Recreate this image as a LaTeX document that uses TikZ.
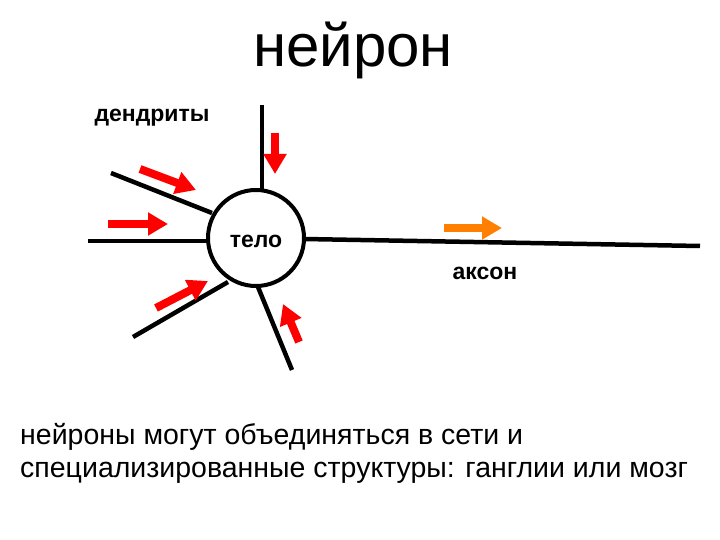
\documentclass[tikz,border=0pt]{standalone}
\usepackage{fontspec}
\setmainfont{Liberation Sans}
\usetikzlibrary{arrows.meta}
\begin{document}
\begin{tikzpicture}[x=1pt,y=-1pt,
 dend/.style={line width=4.5pt},
 sig/.style={line width=8pt,-{Triangle[length=20pt,width=22pt]}},
 lbl/.style={inner sep=0pt,font=\bfseries\fontsize{23}{26}\selectfont}]
\useasboundingbox (0,0) rectangle (720,540);
\node[circle,draw,line width=4pt,minimum size=96pt,inner sep=0pt] (body) at (256,238) {};
\node[lbl] (telo) at (256,241) {тело};
\coordinate (d1) at (262,105); \coordinate (b1) at (262,190);
\coordinate (d2) at (111,173); \coordinate (b2) at (212,213);
\coordinate (d3) at (88,241); \coordinate (b3) at (208,241);
\coordinate (d4) at (133,337); \coordinate (b4) at (228,282);
\coordinate (d5) at (292,370); \coordinate (b5) at (258,287);
\coordinate (ax0) at (304,239); \coordinate (ax1) at (700,246);
\draw[dend] (d1) -- (b1);
\draw[dend] (d2) -- (b2);
\draw[dend] (d3) -- (b3);
\draw[dend] (d4) -- (b4);
\draw[dend] (d5) -- (b5);
\draw[dend] (ax0) -- (ax1);
\coordinate (s1) at (275,133); \coordinate (e1) at (275,174);
\coordinate (s2) at (140,169); \coordinate (e2) at (196,190);
\coordinate (s3) at (108,224); \coordinate (e3) at (168,224);
\coordinate (s4) at (156,308); \coordinate (e4) at (208,281);
\coordinate (s5) at (299,342); \coordinate (e5) at (283,304);
\coordinate (s6) at (444,228); \coordinate (e6) at (502,228);
\draw[sig,red] (s1) -- (e1);
\draw[sig,red] (s2) -- (e2);
\draw[sig,red] (s3) -- (e3);
\draw[sig,red] (s4) -- (e4);
\draw[sig,red] (s5) -- (e5);
\draw[sig,orange] (s6) -- (e6);
\node[inner sep=0pt,font=\fontsize{60}{66}\selectfont] (title) at (353,50) {нейрон};
\node[lbl] (dendr) at (152,118) {дендриты};
\node[lbl] (akson) at (485,273) {аксон};
\node[inner sep=0pt,anchor=west,align=left,font=\fontsize{28.5}{33}\selectfont] (txt) at (20,453) {нейроны могут объединяться в сети и\\специализированные структуры: ганглии или мозг};
\end{tikzpicture}
\end{document}
